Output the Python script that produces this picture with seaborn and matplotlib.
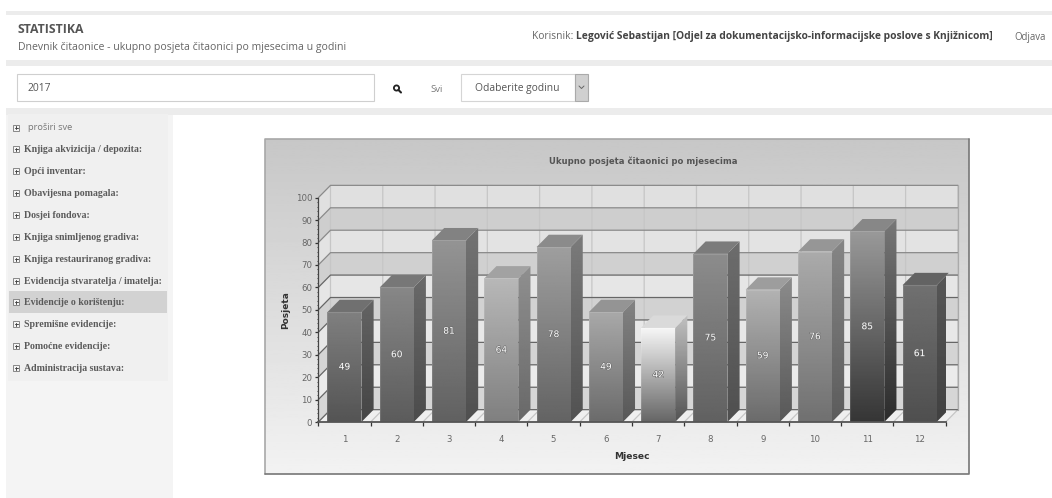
import numpy as np
import seaborn as sns
import matplotlib.pyplot as plt
from matplotlib.patches import Rectangle, Polygon, Circle
from matplotlib import patheffects as pe

# chart data
months = ["1", "2", "3", "4", "5", "6", "7", "8", "9", "10", "11", "12"]
visits = [49, 60, 81, 64, 78, 49, 42, 75, 59, 76, 85, 61]
y_ticks = list(range(0, 101, 10))

# grey level at top and bottom of each bar
bar_top = [0.50, 0.53, 0.58, 0.72, 0.62, 0.66, 0.97, 0.55, 0.70, 0.67, 0.60, 0.44]
bar_bottom = [0.33, 0.36, 0.38, 0.50, 0.39, 0.42, 0.40, 0.38, 0.42, 0.44, 0.21, 0.31]

# page text
menu_items = ["Knjiga akvizicija / depozita:", "Opći inventar:", "Obavijesna pomagala:",
              "Dosjei fondova:", "Knjiga snimljenog gradiva:", "Knjiga restauriranog gradiva:",
              "Evidencija stvaratelja / imatelja:", "Evidencije o korištenju:",
              "Spremišne evidencije:", "Pomoćne evidencije:", "Administracija sustava:"]
menu_y = [149, 171.3, 193.3, 215.3, 237.3, 259, 281, 302.3, 324.3, 346.3, 368.3]

W, H = 1052, 498
sns.set_theme(style="white")
plt.rcParams['font.family'] = ['DejaVu Sans']
fig = plt.figure(figsize=(W / 100, H / 100), dpi=100, facecolor="white")

# page furniture, drawn in pixel coordinates
bg = fig.add_axes([0, 0, 1, 1])
bg.set_xlim(0, W)
bg.set_ylim(H, 0)
bg.axis("off")


def box(x0, y0, x1, y1, fc, ec="none", lw=0, ax=bg):
    ax.add_patch(Rectangle((x0, y0), x1 - x0, y1 - y0, fc=fc, ec=ec, lw=lw))


box(6, 11, W, 15, "#ececec")
box(6, 60, W, 66, "#ececec")
box(6, 108, W, 115, "#ececec")
box(6, 115, 173, H, "#f4f4f4")
box(8, 114, 168, 381, "#f0f0f0")
box(9, 291, 167, 313, "#d2d2d2")

box(17, 74, 374, 100.5, "white", "#cfcfcf", 0.8)
box(461, 74, 575, 100.5, "white", "#d5d5d5", 0.8)
box(575, 74, 588, 100.5, "#d0d0d0", "#aaaaaa", 0.8)
bg.plot([579, 581.5, 584], [86, 88.5, 86], color="#666666", lw=0.7)
bg.add_patch(Circle((396.5, 88), 2.6, fc="none", ec="#222222", lw=1.3))
bg.plot([398.5, 401], [90, 92.5], color="#222222", lw=1.5)

page_font = "Open Sans"
bg.text(18, 29, "STATISTIKA", family=page_font, fontsize=8.8, weight="bold", color="#555555", va="center")
bg.text(18, 47, "Dnevnik čitaonice - ukupno posjeta čitaonici po mjesecima u godini",
        family=page_font, fontsize=7.55, color="#666666", va="center")
bg.text(532, 36, "Korisnik:", family=page_font, fontsize=7.4, color="#666666", va="center")
bg.text(576, 36, "Legović Sebastijan [Odjel za dokumentacijsko-informacijske poslove s Knjižnicom]",
        family=page_font, fontsize=7.4, weight="bold", color="#444444", va="center")
bg.text(1014, 37, "Odjava", family=page_font, fontsize=6.9, color="#666666", va="center")
bg.text(27, 88, "2017", family=page_font, fontsize=7.4, color="#555555", va="center")
bg.text(430, 89, "Svi", family=page_font, fontsize=6.8, color="#777777", va="center")
bg.text(475, 88, "Odaberite godinu", family=page_font, fontsize=7.4, color="#555555", va="center")
bg.text(28, 127.7, "proširi sve", family=page_font, fontsize=6.7, color="#777777", va="center")


def plus_icon(y):
    box(13, y - 3, 19, y + 3, "#f5f5f5", "#777777", 0.6)
    bg.plot([14.5, 17.5], [y, y], color="#444444", lw=0.7)
    bg.plot([16, 16], [y - 1.5, y + 1.5], color="#444444", lw=0.7)


plus_icon(127.7)
for label, y in zip(menu_items, menu_y):
    plus_icon(y)
    bg.text(24, y, label, family="Liberation Serif", fontsize=7.15, weight="bold", color="#5a5a5a", va="center")

# chart panel with its grey gradient
panel = [265, 139, 969, 474]
bg.imshow(np.linspace(0.78, 0.95, 256).reshape(-1, 1), cmap="gray", vmin=0, vmax=1, aspect="auto",
          extent=[panel[0], panel[2], panel[3], panel[1]], zorder=1)
bg.set_xlim(0, W)
bg.set_ylim(H, 0)
bg.plot([panel[0], panel[0], panel[2]], [panel[3], panel[1], panel[1]], color="#a8a8a8", lw=1.2, zorder=2)
bg.plot([panel[0], panel[2], panel[2]], [panel[3], panel[3], panel[1]], color="#777777", lw=1.2, zorder=2)

# front plane of the chart: axes area is the 0-100 range of the front axis
left, right, top, bottom = 318.3, 945.7, 197.7, 422.0
ax = fig.add_axes([left / W, 1 - bottom / H, (right - left) / W, (bottom - top) / H])
ax.patch.set_visible(False)

sns.barplot(x=months, y=visits, order=months, width=0.65, color="#777777", saturation=1,
            edgecolor="none", linewidth=0, ax=ax, zorder=2)
fronts = list(ax.containers[0])

x0, x1 = -0.5, 11.5
dx, dy = 0.233, 5.5  # depth of the fake 3d box, data units


def wall(xs, ys, color, z=0.2):
    ax.fill(xs, ys, color=color, lw=0, clip_on=False, zorder=z)


def shade(verts, top_level, bottom_level, z):
    poly = Polygon(verts, closed=True, fc="none", ec="none", transform=ax.transData)
    ax.add_patch(poly)
    xs, ys = zip(*verts)
    im = ax.imshow(np.linspace(top_level, bottom_level, 128).reshape(-1, 1), cmap="gray", vmin=0, vmax=1,
                   aspect="auto", extent=[min(xs), max(xs), min(ys), max(ys)], zorder=z)
    im.set_clip_path(poly)


# back and side walls, striped bands every 10
for i, v in enumerate(y_ticks[:-1]):
    mix = 1 - v / 100
    dark = (i % 2 == 0)
    level = 0.84 - 0.04 * (1 - mix) if dark else 0.925 - 0.05 * (1 - mix)
    c = str(round(level, 3))
    wall([x0 + dx, x1 + dx, x1 + dx, x0 + dx], [v + dy, v + dy, v + 10 + dy, v + 10 + dy], c)
    wall([x0, x0 + dx, x0 + dx, x0], [v, v + dy, v + 10 + dy, v + 10], c)

# floor
wall([x0, x1, x1 + dx, x0 + dx], [0, 0, dy, dy], "#efefef")

# grid on the walls
for v in y_ticks:
    col = "#8a8a8a" if v > 65 else "#666666"
    ax.plot([x0, x0 + dx, x1 + dx], [v, v + dy, v + dy], color=col, lw=0.9, clip_on=False, zorder=0.5)
for b in np.arange(x0, x1 + 1):
    ax.plot([b, b + dx, b + dx], [0, dy, 100 + dy], color="#c6c6c6", lw=0.9, clip_on=False, zorder=0.4)
ax.plot([x1 + dx, x1 + dx], [dy, 100 + dy], color="#aaaaaa", lw=0.9, clip_on=False, zorder=0.5)

# side and top faces of the bars, taken from the seaborn bars
for i, bar in enumerate(fronts):
    bx0, bx1, h = bar.get_x(), bar.get_x() + bar.get_width(), bar.get_height()
    side = [(bx1, 0), (bx1 + dx, dy), (bx1 + dx, h + dy), (bx1, h)]
    shade(side, bar_top[i] * 0.78, bar_bottom[i] * 0.82, 1.5)
    roof = [(bx0, h), (bx1, h), (bx1 + dx, h + dy), (bx0 + dx, h + dy)]
    ax.fill(*zip(*roof), color=str(round(bar_top[i] * 0.88, 3)), lw=0, clip_on=False, zorder=1.6)
    shade(bar.get_corners().tolist(), bar_top[i], bar_bottom[i], 2.1)
    ax.plot([bx0, bx0, bx1], [0, h, h], color="white", alpha=0.12, lw=0.8, zorder=2.2, clip_on=False)

labels = ax.bar_label(ax.containers[0], label_type="center", color="white", fontsize=6.5)
for t in labels:
    t.set_path_effects([pe.withStroke(linewidth=0.8, foreground="#666666")])
    t.set_zorder(3)

ax.set_xlim(x0, x1)
ax.set_ylim(0, 100)

# axes, ticks at the category borders and labels between them
ax.set_xticks(np.arange(x0, x1 + 1))
ax.set_xticklabels([])
ax.set_xticks(np.arange(len(months)), labels=months, minor=True)
ax.set_yticks(y_ticks)
ax.set_yticks(np.arange(0, 101, 2), minor=True)
ax.tick_params(axis="x", which="major", length=3, width=0.9, color="#333333", bottom=True, direction="out")
ax.tick_params(axis="x", which="minor", length=0, pad=9, labelsize=6.2, labelcolor="#666666", bottom=True)
ax.tick_params(axis="y", which="major", length=2.4, width=0.9, color="#333333", left=True, pad=2,
               labelsize=6.2, labelcolor="#666666")
ax.tick_params(axis="y", which="minor", length=1, width=0.6, color="#333333", left=True)
sns.despine(ax=ax)
ax.spines["left"].set_color("#444444")
ax.spines["left"].set_linewidth(0.9)
ax.spines["bottom"].set_color("#555555")
ax.spines["bottom"].set_linewidth(1.3)

ax.set_title("Ukupno posjeta čitaonici po mjesecima", fontsize=6.1, weight="bold", color="#555555",
             x=0.518, pad=24)
ax.set_xlabel("Mjesec", fontsize=6.6, weight="bold", color="#333333", labelpad=6)
ax.set_ylabel("Posjeta", fontsize=6.5, weight="bold", color="#333333", labelpad=4)

fig.savefig("out.png", dpi=100)
